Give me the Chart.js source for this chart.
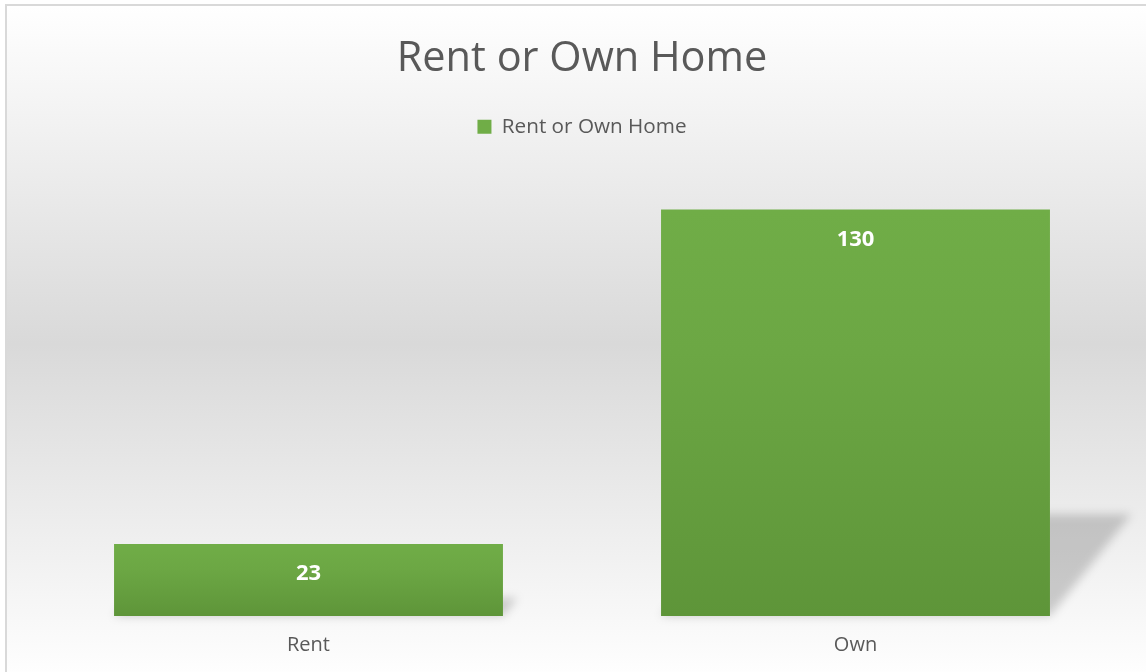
<!DOCTYPE html>
<html>
<head>
<meta charset="utf-8">
<script src="https://cdn.jsdelivr.net/npm/chart.js@4/dist/chart.umd.min.js"></script>
<style>
  html, body { margin: 0; padding: 0; width: 1146px; height: 672px; overflow: hidden; background: #ffffff; }
  #frame {
    position: absolute; left: 5px; top: 4px;
    width: 1150px; height: 676px;
    border: 2px solid #D9D9D9;
    background: linear-gradient(to bottom, #FFFFFF 0%, #D9D9D9 50%, #FFFFFF 100%);
  }
  #wrap { position: absolute; left: 0; top: 0; width: 1150px; height: 675px; }
</style>
</head>
<body>
<div id="frame"><div id="wrap"><canvas id="c"></canvas></div></div>
<script>
const chartTitle = 'Rent or Own Home';
const seriesName = 'Rent or Own Home';
const categories = ['Rent', 'Own'];
const values = [23, 130];
const yMin = 0;
const yMax = 140;

const FONT = '"Open Sans", "Noto Sans", sans-serif';

function barFill(context) {
  if (context.type !== 'data') return '#69A642';
  const chart = context.chart;
  const yScale = chart.scales.y;
  if (!chart.chartArea || !yScale) return '#69A642';
  const top = yScale.getPixelForValue(context.parsed ? context.parsed.y : values[context.dataIndex]);
  const base = yScale.getPixelForValue(0);
  if (!isFinite(top) || !isFinite(base) || top === base) return '#69A642';
  const g = chart.ctx.createLinearGradient(0, top, 0, base);
  g.addColorStop(0, '#70AD47');
  g.addColorStop(0.35, '#6CA744');
  g.addColorStop(1, '#5E9539');
  return g;
}

// extra space below the legend
const legendGap = {
  id: 'legendGap',
  afterInit(chart) {
    const lg = chart.legend;
    if (!lg || lg._gapPatched) return;
    const origFit = lg.fit;
    lg.fit = function () {
      origFit.call(this);
      this.height += 31;
    };
    lg._gapPatched = true;
  }
};

const shadowPlugin = {
  id: 'barShadow',
  beforeDatasetsDraw(chart) {
    const ctx = chart.ctx;
    chart.getSortedVisibleDatasetMetas().forEach(meta => {
      meta.data.forEach(bar => {
        const p = bar.getProps(['x', 'y', 'base', 'width'], true);
        const h = p.base - p.y;
        const left = p.x - p.width / 2, right = p.x + p.width / 2;
        const dx = h * 0.2, dy = h * 0.25;
        ctx.save();
        ctx.filter = 'blur(5px)';
        ctx.fillStyle = 'rgba(0,0,0,0.18)';
        ctx.beginPath();
        ctx.moveTo(left, p.base);
        ctx.lineTo(left + dx, p.base - dy);
        ctx.lineTo(right + dx, p.base - dy);
        ctx.lineTo(right, p.base);
        ctx.closePath();
        ctx.fill();
        ctx.restore();
      });
    });
  }
};

const labelPlugin = {
  id: 'valueLabels',
  afterDatasetsDraw(chart) {
    const ctx = chart.ctx;
    chart.getSortedVisibleDatasetMetas().forEach(meta => {
      const ds = chart.data.datasets[meta.index];
      meta.data.forEach((bar, i) => {
        const p = bar.getProps(['x', 'y'], true);
        ctx.save();
        ctx.font = 'bold 22px ' + FONT;
        ctx.fillStyle = '#FFFFFF';
        ctx.textAlign = 'center';
        ctx.textBaseline = 'middle';
        ctx.fillText(String(ds.data[i]), p.x, p.y + 30);
        ctx.restore();
      });
    });
  }
};

new Chart(document.getElementById('c'), {
  type: 'bar',
  data: {
    labels: categories,
    datasets: [{
      label: seriesName,
      data: values,
      backgroundColor: barFill,
      borderWidth: 0,
      barPercentage: 0.711,
      categoryPercentage: 1.0
    }]
  },
  options: {
    responsive: true,
    maintainAspectRatio: false,
    animation: false,
    devicePixelRatio: 1,
    layout: { padding: { left: 28, right: 28, top: 0, bottom: 15 } },
    plugins: {
      title: {
        display: true,
        text: chartTitle,
        color: '#595959',
        font: { family: FONT, size: 41.5, weight: 'normal', lineHeight: 1.0 },
        padding: { top: 32, bottom: 0 }
      },
      legend: {
        display: true,
        position: 'top',
        labels: {
          color: '#595959',
          font: { family: FONT, size: 20.7 },
          boxWidth: 14,
          boxHeight: 14,
          padding: 37
        }
      },
      tooltip: { enabled: false }
    },
    scales: {
      x: {
        grid: { display: false },
        border: { display: false },
        ticks: { color: '#595959', font: { family: FONT, size: 20 }, padding: 9 }
      },
      y: {
        display: false,
        min: yMin,
        max: yMax
      }
    }
  },
  plugins: [legendGap, shadowPlugin, labelPlugin]
});
</script>
</body>
</html>
